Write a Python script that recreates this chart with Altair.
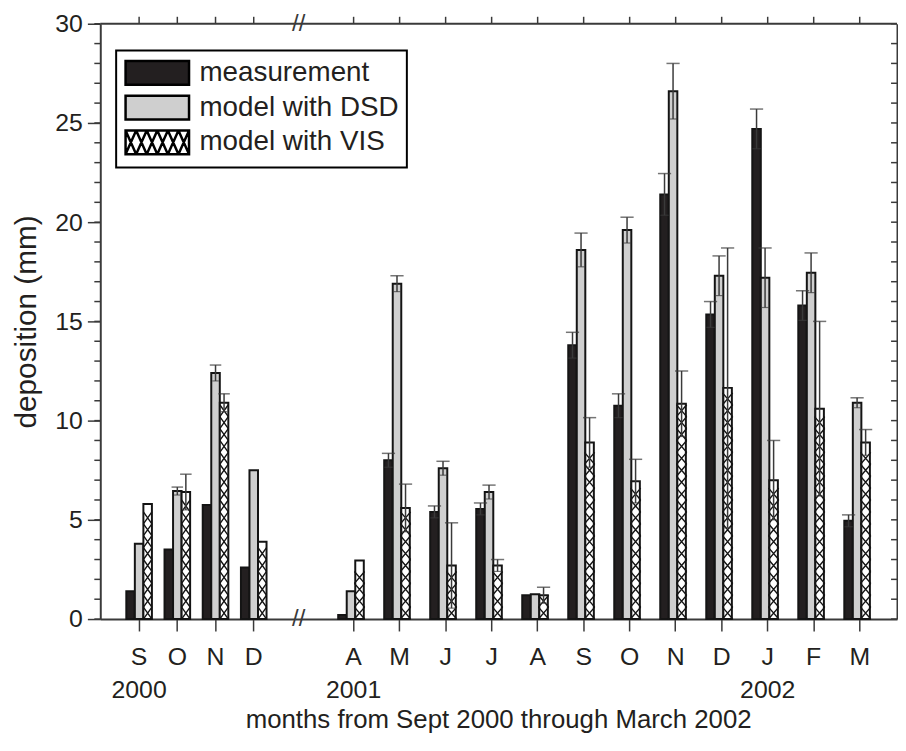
import altair as alt
import pandas as pd

# ---------------- data ----------------
months = ["S", "O", "N", "D", "A", "M", "J", "J", "A", "S", "O", "N", "D", "J", "F", "M"]
years = ["2000", "", "", "", "2001", "", "", "", "", "", "", "", "", "2002", "", ""]
measurement = [1.4, 3.5, 5.75, 2.6, 0.2, 8.0, 5.4, 5.55, 1.2, 13.8, 10.75, 21.4, 15.35, 24.7, 15.8, 4.95]
measurement_err = [0, 0, 0, 0, 0, 0.35, 0.3, 0.3, 0, 0.65, 0.6, 1.05, 0.65, 1.0, 0.75, 0.3]
dsd = [3.8, 6.45, 12.4, 7.5, 1.4, 16.9, 7.6, 6.4, 1.25, 18.6, 19.6, 26.6, 17.3, 17.2, 17.45, 10.9]
dsd_err = [0, 0.2, 0.4, 0, 0, 0.4, 0.35, 0.35, 0, 0.85, 0.65, 1.4, 1.0, 1.5, 1.0, 0.25]
vis = [5.8, 6.4, 10.9, 3.9, 2.95, 5.6, 2.7, 2.7, 1.2, 8.9, 6.95, 10.85, 11.65, 7.0, 10.6, 8.9]
vis_err = [0, 0.9, 0.45, 0, 0, 1.2, 2.15, 0.3, 0.4, 1.25, 1.1, 1.65, 7.05, 2.0, 4.4, 0.65]
series_names = ["measurement", "model with DSD", "model with VIS"]
y_major = [0, 5, 10, 15, 20, 25, 30]
y_minor = list(range(0, 31))
x_title = "months from Sept 2000 through March 2002"
y_title = "deposition (mm)"

FONT = "Liberation Sans"
INK = "#231f20"
AXC = "#3a3a3a"
H = 600
W_LEFT, W_RIGHT = 196, 607
PATTERN_STEP = 0.6  # height of one cross of the hatch, in mm

keys = [f"{i:02d}|{m}|{y}" for i, (m, y) in enumerate(zip(months, years))]
values = {series_names[0]: (measurement, measurement_err),
          series_names[1]: (dsd, dsd_err),
          series_names[2]: (vis, vis_err)}

rows = []
for i, k in enumerate(keys):
    for s in series_names:
        v, e = values[s][0][i], values[s][1][i]
        rows.append({"key": k, "idx": i, "series": s, "value": v, "err": e,
                     "lo": v - e, "hi": v + e})
df = pd.DataFrame(rows)

hatch_rows = []
for i, k in enumerate(keys):
    v = vis[i]
    n = int(v // PATTERN_STEP)
    for j in range(n):
        hatch_rows.append({"key": k, "idx": i, "series": series_names[2],
                           "py": (j + 0.5) * PATTERN_STEP})
df_hatch = pd.DataFrame(hatch_rows)
df_ticks = pd.DataFrame({"t": y_minor})
df_leg = pd.DataFrame({"legend_series": series_names})
df_one = pd.DataFrame({"b": ["//"]})

fill_range = [INK, "#cfcfcf", "#ffffff"]


def rect_path(x0, x1, y0, y1):
    return f"M{x0},{y0}H{x1}V{y1}H{x0}Z"


# legend symbols: rectangles 64x24 px (symbol box 26 px, unit = 13 px)
X0, X1, YH = -1.0, 3.92, 0.92
leg_rect = rect_path(X0, X1, -YH, YH)
hatch_leg = leg_rect
ncross = 6
cw = (X1 - X0) / ncross
for c in range(ncross):
    a = X0 + c * cw
    b = a + cw
    hatch_leg += f"M{a:.3f},{-YH}L{b:.3f},{YH}M{b:.3f},{-YH}L{a:.3f},{YH}"

legend = alt.Legend(title=None, orient="none", legendX=16, legendY=27,
                    labelFont=FONT, labelFontSize=28, labelColor=INK,
                    labelLimit=400, labelOffset=47,
                    symbolSize=676, symbolStrokeColor="black", symbolStrokeWidth=2.5,
                    symbolOpacity=1, rowPadding=0, padding=8,
                    strokeColor="black", fillColor="white")
fill_scale = alt.Scale(domain=series_names, range=fill_range)


def panel(first, width):
    sel = df[(df.idx < 4) if first else (df.idx >= 4)]
    selh = df_hatch[(df_hatch.idx < 4) if first else (df_hatch.idx >= 4)]
    pkeys = keys[:4] if first else keys[4:]
    align = 0.48 if first else 0.665
    xs = alt.Scale(domain=pkeys, paddingInner=0.33, paddingOuter=0.71, align=align)
    xo = alt.XOffset("series:N", scale=alt.Scale(domain=series_names, paddingInner=0, paddingOuter=0))
    common_x = dict(labelExpr="slice(split(datum.value, '|'), 1)",
                    labelFont=FONT, labelFontSize=25, labelColor=INK, labelLineHeight=33,
                    labelPadding=14, tickSize=12, tickColor=AXC, tickWidth=1.5,
                    domainColor=AXC, domainWidth=2, labelAngle=0, labelOverlap=False)
    if first:
        bottom_axis = alt.Axis(orient="bottom", title=None, **common_x)
    else:
        bottom_axis = alt.Axis(orient="bottom", title=x_title, titleX=205, titleY=101,
                               titleBaseline="middle", titleAlign="center",
                               titleFont=FONT, titleFontSize=26, titleFontWeight="normal",
                               titleColor=INK, **common_x)
    x = alt.X("key:N", scale=xs, axis=bottom_axis)
    xn = alt.X("key:N", scale=xs)
    ys = alt.Scale(domain=[0, 30], nice=False, zero=True)
    if first:
        yaxis = alt.Axis(orient="left", title=y_title, values=y_major,
                         tickSize=13, tickColor=AXC, tickWidth=1.5, domainColor=AXC, domainWidth=2,
                         labelFont=FONT, labelFontSize=25, labelColor=INK, labelPadding=5,
                         labelOverlap=False,
                         titleFont=FONT, titleFontSize=30, titleFontWeight="normal",
                         titleColor=INK, titlePadding=13, grid=False)
    else:
        yaxis = alt.Axis(orient="right", title=None, labels=False, ticks=False,
                         domainColor=AXC, domainWidth=2, grid=False)
    y = alt.Y("value:Q", scale=ys, axis=yaxis)

    bars = alt.Chart(sel).mark_bar(stroke="#141414", strokeWidth=2).encode(
        x=x, xOffset=xo, y=y,
        fill=alt.Fill("series:N", scale=fill_scale, legend=None),
    )
    bw = 8.6 if first else 10.3
    r = bw / 2
    yf = 6.0 / r
    cross = f"M-1,{-yf:.3f}L1,{yf:.3f}M1,{-yf:.3f}L-1,{yf:.3f}"
    hatch = alt.Chart(selh).mark_point(shape=cross, size=bw * bw, stroke="#141414",
                                       strokeWidth=1.4, filled=False, opacity=1).encode(
        x=xn, xOffset=xo, y=alt.Y("py:Q", scale=ys),
    )
    err = sel[sel.err > 0]
    rules = alt.Chart(err).mark_rule(color=AXC, strokeWidth=1.5).encode(
        x=xn, xOffset=xo, y=alt.Y("lo:Q", scale=ys), y2="hi:Q",
    )
    caps_hi = alt.Chart(err).mark_tick(color=AXC, thickness=1.5, size=bw + 3).encode(
        x=xn, xOffset=xo, y=alt.Y("hi:Q", scale=ys),
    )
    caps_lo = alt.Chart(err).mark_tick(color=AXC, thickness=1.2, size=bw - 2).encode(
        x=xn, xOffset=xo, y=alt.Y("lo:Q", scale=ys),
    )
    # top frame line with outward ticks at the months
    top_line = alt.Chart(df_one).mark_rule(color=AXC, strokeWidth=2).encode(
        x=alt.value(0), x2=alt.value(width), y=alt.value(0))
    top_ticks = alt.Chart(pd.DataFrame({"key": pkeys})).mark_rule(color=AXC, strokeWidth=1.5).encode(
        x=xn, y=alt.value(-7), y2=alt.value(0))
    layers = [bars, hatch, rules, caps_hi, caps_lo, top_line, top_ticks]
    if first:
        minor = alt.Chart(df_ticks).mark_rule(color=AXC, strokeWidth=1.5).encode(
            y=alt.Y("t:Q", scale=ys), x=alt.value(-6), x2=alt.value(0))
        brk = alt.Chart(df_one).mark_text(
            font=FONT, fontSize=24, color=AXC, align="center", baseline="middle").encode(
            text="b:N", x=alt.value(width + 4), y=alt.value(0))
        brk2 = alt.Chart(df_one).mark_text(
            font=FONT, fontSize=24, color=AXC, align="center", baseline="middle").encode(
            text="b:N", x=alt.value(width + 4), y=alt.value(H))
        leg = alt.Chart(df_leg).mark_point(filled=True, opacity=0, size=676).encode(
            color=alt.Color("legend_series:N", scale=alt.Scale(domain=series_names, range=fill_range),
                            legend=legend),
            shape=alt.Shape("legend_series:N",
                            scale=alt.Scale(domain=series_names, range=[leg_rect, leg_rect, hatch_leg]),
                            legend=legend),
            stroke=alt.Stroke("legend_series:N",
                              scale=alt.Scale(domain=series_names, range=["black", "black", "black"]),
                              legend=legend),
            x=alt.value(0), y=alt.value(0),
        )
        layers += [minor, brk, brk2, leg]
    else:
        inner = alt.Chart(df_ticks).mark_rule(color=AXC, strokeWidth=1.5).encode(
            y=alt.Y("t:Q", scale=ys), x=alt.value(width - 6), x2=alt.value(width))
        layers.append(inner)
    return alt.layer(*layers).properties(width=width, height=H)


chart = alt.hconcat(panel(True, W_LEFT), panel(False, W_RIGHT), spacing=0, bounds="flush").resolve_scale(
    color="independent", shape="independent", stroke="independent"
).resolve_legend(color="independent", shape="independent", stroke="independent").properties(
    padding={"left": 4, "top": 1, "right": 0, "bottom": 0},
).configure_view(stroke=None).configure_legend(strokeWidth=2)

chart.save("out.html", embed_options={"renderer": "svg", "actions": False})
